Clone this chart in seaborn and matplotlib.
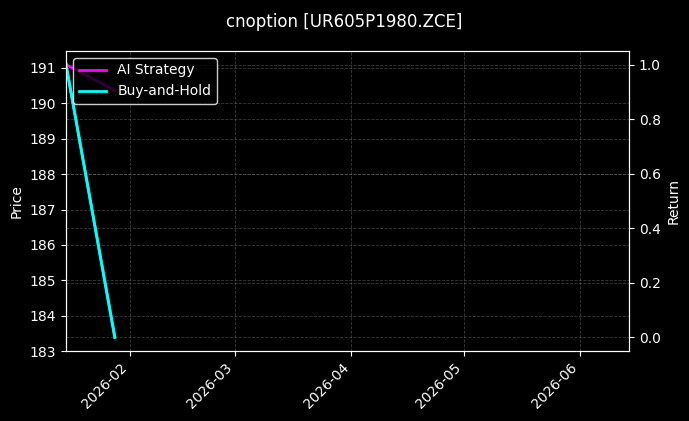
import pandas as pd
import matplotlib
matplotlib.use("Agg")
import matplotlib.pyplot as plt
import matplotlib.dates as mdates
import seaborn as sns

# values
dates = ["2026-01-15", "2026-01-28"]
price = [191.1, 183.4]
ai_return = [1.0, 0.905]
bh_return = [1.0, 0.0]
x_range = ["2026-01-15", "2026-06-14"]
price_range = [183.0, 191.48]

df = pd.DataFrame({
    "Date": pd.to_datetime(dates),
    "Price": price,
    "AI Strategy": ai_return,
    "Buy-and-Hold": bh_return,
})

plt.style.use("dark_background")
plt.rcParams["font.family"] = ["DejaVu Sans"]

fig, ax1 = plt.subplots(figsize=(6.89, 4.21), dpi=100)
fig.patch.set_facecolor("black")
ax1.set_facecolor("black")
fig.subplots_adjust(left=0.0958, right=0.913, bottom=0.166, top=0.879)

# price on the left axis (hidden under the buy-and-hold line)
sns.lineplot(x="Date", y="Price", data=df, ax=ax1, color="cyan", linewidth=2)
ax1.set_ylabel("Price")
ax1.set_xlabel("")
ax1.set_ylim(price_range)
ax1.grid(True, linestyle="--", linewidth=0.6, color="gray", alpha=0.45)

ax2 = ax1.twinx()
sns.lineplot(x="Date", y="AI Strategy", data=df, ax=ax2, color="magenta",
             linewidth=2, label="AI Strategy")
sns.lineplot(x="Date", y="Buy-and-Hold", data=df, ax=ax2, color="cyan",
             linewidth=2, label="Buy-and-Hold")
ax2.set_ylabel("Return")
ax2.grid(True, axis="y", linestyle="--", linewidth=0.6, color="gray", alpha=0.45)
ax2.legend(loc="upper left", facecolor="black", edgecolor="white", framealpha=0.8)

ax1.set_xlim(pd.to_datetime(x_range[0]), pd.to_datetime(x_range[1]))
ax1.xaxis.set_major_locator(mdates.MonthLocator())
ax1.xaxis.set_major_formatter(mdates.DateFormatter("%Y-%m"))
plt.setp(ax1.get_xticklabels(), rotation=45, ha="right")

fig.suptitle("cnoption [UR605P1980.ZCE]", fontsize=12, y=0.97)

plt.savefig("out.png", dpi=100, facecolor="black")
